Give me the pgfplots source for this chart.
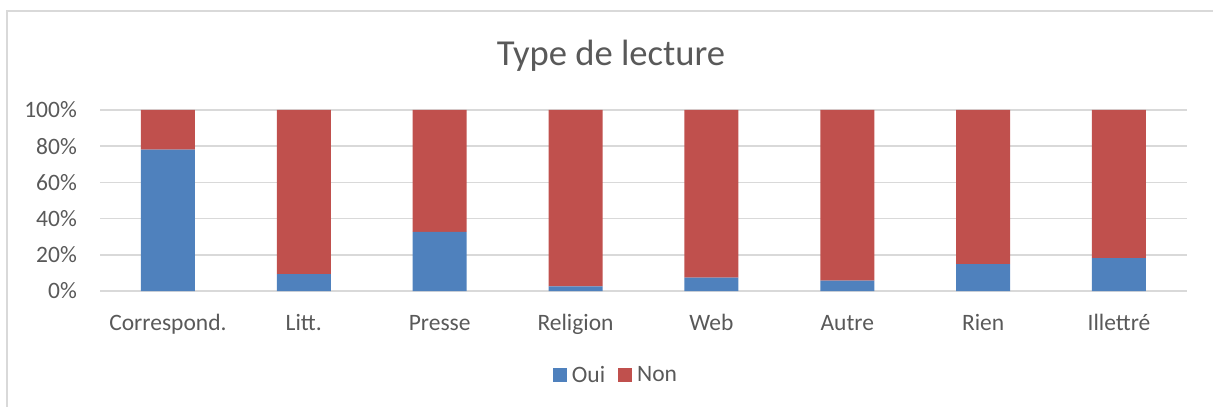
\documentclass[border=0pt]{standalone}
\usepackage{fontspec}
\setmainfont{Carlito}
\usepackage{pgfplots}
\pgfplotsset{compat=1.18}

\definecolor{oui}{HTML}{4F81BD}
\definecolor{non}{HTML}{C0504D}
\definecolor{txt}{HTML}{595959}
\definecolor{grd}{HTML}{D9D9D9}

\pgfplotstableread{
x oui non
0 78.1 21.9
1 9.3  90.7
2 32.6 67.4
3 2.6  97.4
4 7.4  92.6
5 5.7  94.3
6 14.8 85.2
7 18.1 81.9
}\lecture

\begin{document}
\begin{tikzpicture}[x=1pt,y=1pt]
  % picture is 1213 x 407, 1pt = 1px of the reference
  \useasboundingbox (0,0) rectangle (1213,407);
  \draw[grd, line width=1.5pt] (7,0) -- (7,396) -- (1213,396);
  \node[anchor=base, text=txt, font=\fontsize{36.6}{40}\selectfont] at (611,341) {Type de lecture};
  \begin{axis}[
    at={(100pt,116pt)}, anchor=south west,
    scale only axis, width=1087pt, height=181pt,
    ybar stacked, bar width=54pt,
    xmin=-0.5, xmax=7.5, ymin=0, ymax=100,
    xtick=data,
    xticklabels={Correspond., Litt., Presse, Religion, Web, Autre, Rien, Illettré},
    ytick={0,20,40,60,80,100},
    yticklabel={\pgfmathprintnumber{\tick}\%},
    /pgf/number format/assume math mode=true,
    major tick length=0pt,
    axis line style={draw=none},
    ymajorgrids, grid style={grd, line width=1.7pt},
    every tick label/.append style={font=\fontsize{23.5}{28}\selectfont, text=txt},
    yticklabel style={anchor=east, inner sep=0pt, xshift=-23pt},
    xticklabel style={anchor=base, inner sep=0pt, yshift=-39pt},
    legend columns=2,
    legend style={at={(rel axis cs:0.4747,-0.464)}, anchor=center, draw=none, fill=none,
      font=\fontsize{23.5}{28}\selectfont, text=txt,
      /tikz/every even column/.append style={column sep=11pt}},
    legend image code/.code={\fill[#1] (0pt,-7pt) rectangle (14pt,7pt); \path (17pt,0pt);},
  ]
    \addplot[fill=oui, draw=none] table[x=x, y=oui] {\lecture};
    \addlegendentry{Oui}
    \addplot[fill=non, draw=none] table[x=x, y=non] {\lecture};
    \addlegendentry{Non}
  \end{axis}
\end{tikzpicture}
\end{document}
